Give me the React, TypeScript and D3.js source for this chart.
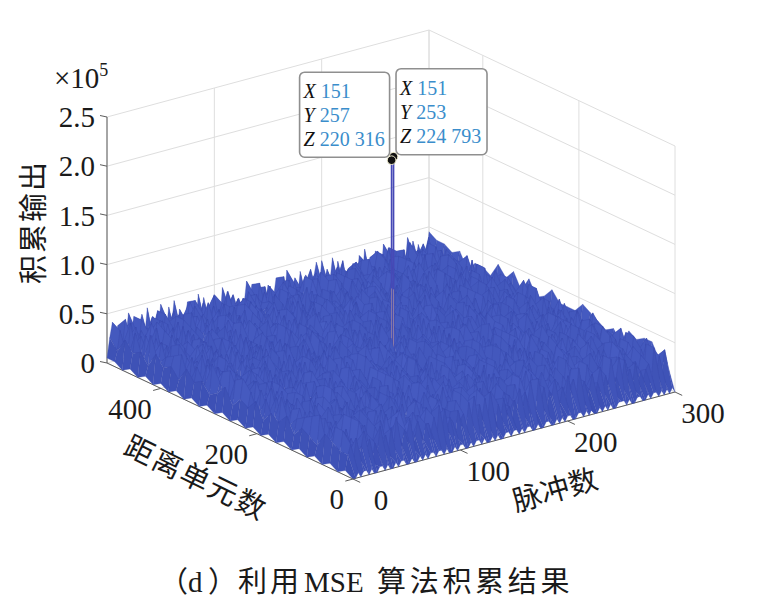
import React from "react";
import * as d3 from "d3";

// axis extents and ticks
const PULSE_MAX = 300;
const RANGE_MAX = 512;
const Z_MAX = 2.5e5;

const pulseTicks = [0, 100, 200, 300];
const rangeTicks = [0, 200, 400];
const zTicks = [0, 0.5e5, 1e5, 1.5e5, 2e5, 2.5e5];
const zTickLabels = ["0", "0.5", "1.0", "1.5", "2.0", "2.5"];

// accumulated noise floor: one string per range row
// (every 16 cells), one digit per pulse column (every 2.5 pulses), digit x 5000
const PULSE_STEP = 2.5;
const RANGE_STEP = 16;
const LEVEL_UNIT = 5000;
const noiseRows = [
  "0 0101101001 1010010110 0100101011 0110100101 1001011010 0101001101 1010110010 0110010101 1001101010 0101010011 1010011001 0110101010",
  "1 4627358461 5384627395 3658247536 6472938465 2756384927 4839526374 5264837592 3947265843 6385729461 4725836492 5938462735 3562947385",
  "0 4873625948 6247385926 3795462837 5482736951 2648395746 4937528463 5726384952 3847296574 4627358461 5384627395 3658247536 6472938465",
  "1 5836274915 3728465392 6473829516 4958372648 3627495836 5749382615 4836275948 6293847562 3758462937 5684729346 4927365847 3586274958",
  "0 6374825936 4829573648 3956284735 5738462958 4682937564 3847529638 6529384756 4736958243 5384762958 3962847564 6483725936 4758392648",
  "1 3928475638 5647293857 4738562948 6295837465 3847265938 5728394657 4693825746 3857462938 6472938574 4385729646 5937462835 3748295637",
  "0 4857362947 6382947563 3749582648 5628374956 4973825647 3586274938 6847392568 4739562835 5382947658 3694827563 4758392647 6283749568",
  "1 5738294657 3849527364 6482937548 4395728463 5847362958 3628495736 4973826548 5384729637 3759284658 6427385946 4839562738 5692837465",
  "0 3684729568 5927384657 4738695842 6385742958 3948527634 5726394857 4839275648 3587462938 6294837562 4758392646 5384729658 3927485637",
  "1 6473928564 3857264938 5938472653 4627385948 3759482637 6483927548 4392857364 5847362958 3628495746 4973825648 6385729463 4729385746",
  "0 4928375648 6374825937 3849526748 5736284959 4682937546 3957284638 5483729654 6728394857 3849527368 5294837562 4637295848 3758462937",
  "1 5382947658 4739562834 6295837462 3847526938 5628394757 4973826548 3586274935 6438295746 4729385648 3958472635 5847362948 4683927558",
  "0 3749582637 5863927458 4728395647 6395748263 3857264938 5492837654 4638295748 3927485636 6483729558 4759382647 3682947558 5937462849",
  "1 6385729468 3749582647 5927384658 4683957264 3958472635 5374829657 4829573648 6293847565 3758462938 5483927645 4927365848 3648295737",
  "0 4739562838 6482937546 3857462937 5628394758 4973825649 3586274936 6348295746 4729385648 5937462835 3682947559 4758392646 6283749567",
  "1 5936284757 4638295748 6483927546 3749582638 5827364958 4392857463 3958472637 5683927458 4738295646 6294837563 3857462938 4729385647",
  "0 3857462938 5394827365 4729385648 6483957264 3628495737 5947382658 4683729546 3759284637 6384927558 4827365949 5638295746 3947285639",
  "1 6294837568 4758392647 3682947558 5937462834 4829573647 6385729465 3749582636 5483927648 4637295847 3958472638 6728394856 4385729647",
  "0 4683927546 3857264939 5728394656 4392857463 6483729558 3649582737 5927384658 4738295647 3586274938 6295837464 4827365948 5384729656",
  "1 3958472636 6384927557 4729385649 5638295746 3847526938 4973826547 6295837463 3682947558 5749382616 4385729648 6483927545 3857462939",
  "0 5483927648 3749582637 6295837462 4827365949 5937462835 3648295738 4738295647 6384927556 3958472637 5294837563 4683729548 3729485646",
  "1 4729385648 5682937465 3847264938 6483729557 4392857463 5958372648 3627495837 4836275948 6573829456 3749582638 5384729647 4927365849",
  "0 6385729465 4827365947 5394827364 3758462938 6294837566 4683927546 3958472638 5729384657 4638295749 3847526937 6482937548 5637295847",
  "1 3847526939 6483729558 4729385646 5827364958 3649582737 4973825648 6385729463 5483927647 3958472636 6294837562 4738295648 5382947659",
  "0 5729384657 3958472638 6384927556 4683729548 5294837563 3749582637 4827365948 6573829457 3682947558 5938472647 4392857464 6483927546",
  "1 4638295748 5847362957 3729485639 6295837466 4759382647 5384729658 3948527635 4683927549 6827394856 3586274939 5493827658 4738295647",
  "0 6483729556 4392857465 5827364958 3958472637 6384927558 4729385648 5638295746 3847526938 4973826549 6295837563 3749582638 5384729657",
  "1 3958472637 5729384656 4683927549 6573829458 3847526937 5294837564 4738295648 6385729466 3682947559 4827365948 5937462836 4392857465",
  "0 5384729658 6483927547 3749582638 4638295749 5958372646 3627495838 6294837564 4759382648 5827364957 3958472636 4683729549 6384927558",
  "1 4827365949 3958472638 6295837465 5483927648 4392857464 6738294657 3847526939 5638295748 4729385647 6483729556 3586274938 5749382647",
  "0 6294837566 4738295648 5384729657 3958472637 6573829458 4683927549 5827364958 3749582638 4638295746 5937462836 6384927557 4829573648",
  "1 3749582638 5638295746 4827365949 6483729557 3958472637 5729384656 4392857465 6295837464 5483927648 3847526938 4973826549 6573829458",
  "1 5827364958 4683927549 6384927558 3729485638 5294837564 4958372647 6483729557 3847526939 5749382646 4638295748 6295837563 3958472639",
];

// the two data tips on the target peak
const peakPoints = [
  { x: 151, y: 257, z: 220316 },
  { x: 151, y: 253, z: 224793 },
];

const SERIF = "'Liberation Serif', 'Times New Roman', serif";
const CJK = "'Noto Sans CJK SC', sans-serif";
const TICK_FONT = 29;

// oblique projection of the 3-D box onto the page
const origin: [number, number] = [353, 479];
const pulseVec: [number, number] = [322, -87];
const rangeVec: [number, number] = [-246, -116];
const xS = d3.scaleLinear().domain([0, PULSE_MAX]).range([0, 1]);
const yS = d3.scaleLinear().domain([0, RANGE_MAX]).range([0, 1]);
const zS = d3.scaleLinear().domain([0, Z_MAX]).range([0, 246]);

function proj(x: number, y: number, z: number): [number, number] {
  const a = xS(x);
  const b = yS(y);
  return [
    origin[0] + a * pulseVec[0] + b * rangeVec[0],
    origin[1] + a * pulseVec[1] + b * rangeVec[1] - zS(z),
  ];
}

// bigger = farther from the viewer
const depthOf = (x: number, y: number) => xS(x) * -pulseVec[1] + yS(y) * -rangeVec[1];

const fmt = d3
  .formatLocale({ decimal: ".", thousands: " ", grouping: [3], currency: ["", ""] })
  .format(",d");

const shade = d3.scaleLinear<string>().domain([0, 0.45e5]).range(["#394cb0", "#4a60c6"]).clamp(true);

export default function App() {
  const grid = noiseRows.map((r) =>
    r.replace(/\s/g, "").split("").map((c) => +c * LEVEL_UNIT)
  );
  const nCols = d3.max(grid, (r) => r.length) as number;
  const nRows = grid.length;
  const line = d3.line();

  type Item = { depth: number; el: React.ReactElement };
  const items: Item[] = [];

  for (let j = 0; j < nRows - 1; j++) {
    for (let i = 0; i < nCols - 1; i++) {
      const cs: [number, number][] = [
        [i, j],
        [i + 1, j],
        [i + 1, j + 1],
        [i, j + 1],
      ];
      if (cs.some(([a, b]) => grid[b][a] === undefined)) continue;
      const pts = cs.map(([a, b]) => proj(a * PULSE_STEP, b * RANGE_STEP, grid[b][a]));
      const zMean = d3.mean(cs, ([a, b]) => grid[b][a]) as number;
      items.push({
        depth: depthOf((i + 0.5) * PULSE_STEP, (j + 0.5) * RANGE_STEP),
        el: (
          <path
            key={`q${i}-${j}`}
            d={line(pts) + "Z"}
            fill={shade(zMean)}
            stroke="#3a4caf"
            strokeWidth={0.3}
          />
        ),
      });
    }
  }

  peakPoints.forEach((p, k) => {
    const b = proj(p.x, p.y, 0);
    const t = proj(p.x, p.y, p.z);
    const m = proj(p.x, p.y, 0.9e5);
    items.push({
      depth: depthOf(p.x, p.y),
      el: (
        <g key={`peak${k}`}>
          <line x1={b[0]} y1={b[1]} x2={t[0]} y2={t[1]} stroke="#4649b6" strokeWidth={1.7} />
          <line x1={b[0]} y1={b[1]} x2={m[0]} y2={m[1]} stroke="#b89c9c" strokeWidth={0.6} />
        </g>
      ),
    });
  });

  items.sort((a, b) => b.depth - a.depth);

  const gridColor = "#dedede";
  const axisColor = "#5c5c5c";
  const gl = (p: [number, number], q: [number, number], key: string, color = gridColor) => (
    <line key={key} x1={p[0]} y1={p[1]} x2={q[0]} y2={q[1]} stroke={color} strokeWidth={1} />
  );

  const gridLines: React.ReactElement[] = [];
  // back-left wall (range = max)
  pulseTicks.forEach((x) =>
    gridLines.push(gl(proj(x, RANGE_MAX, 0), proj(x, RANGE_MAX, Z_MAX), `bwv${x}`))
  );
  zTicks.forEach((z) =>
    gridLines.push(gl(proj(0, RANGE_MAX, z), proj(PULSE_MAX, RANGE_MAX, z), `bwh${z}`))
  );
  // back-right wall (pulse = max)
  [...rangeTicks, RANGE_MAX].forEach((y) =>
    gridLines.push(gl(proj(PULSE_MAX, y, 0), proj(PULSE_MAX, y, Z_MAX), `rwv${y}`))
  );
  zTicks.forEach((z) =>
    gridLines.push(gl(proj(PULSE_MAX, 0, z), proj(PULSE_MAX, RANGE_MAX, z), `rwh${z}`))
  );
  // floor
  pulseTicks.forEach((x) => gridLines.push(gl(proj(x, 0, 0), proj(x, RANGE_MAX, 0), `fx${x}`)));
  rangeTicks.forEach((y) => gridLines.push(gl(proj(0, y, 0), proj(PULSE_MAX, y, 0), `fy${y}`)));

  const tips = peakPoints.map((p) => proj(p.x, p.y, p.z));
  const boxes = [
    { x: tips[0][0] - 2 - 90, y: tips[0][1] - 3 - 85, w: 90, h: 85 },
    { x: tips[1][0] + 2.5, y: tips[1][1] - 2 - 86, w: 91, h: 86 },
  ];

  const zAxis0 = proj(0, RANGE_MAX, 0);
  const zAxis1 = proj(0, RANGE_MAX, Z_MAX);

  return (
    <svg
      width={765}
      height={616}
      style={{ position: "absolute", left: 0, top: 0, background: "#fff" }}
    >
      {gridLines}

      {/* axis lines */}
      {gl(zAxis0, zAxis1, "zaxis", axisColor)}
      {gl(proj(0, 0, 0), proj(0, RANGE_MAX, 0), "raxis", axisColor)}
      {gl(proj(0, 0, 0), proj(PULSE_MAX, 0, 0), "paxis", axisColor)}

      {/* surface, far to near */}
      {items.map((it) => it.el)}

      {/* z ticks */}
      {zTicks.map((z, k) => {
        const p = proj(0, RANGE_MAX, z);
        return (
          <g key={`zt${z}`}>
            <line x1={p[0]} y1={p[1]} x2={p[0] - 7} y2={p[1] - 1.5} stroke={axisColor} />
            <text
              x={p[0] - 12}
              y={p[1]}
              dy="0.35em"
              textAnchor="end"
              fontFamily={SERIF}
              fontSize={TICK_FONT}
              fill="#1a1a1a"
            >
              {zTickLabels[k]}
            </text>
          </g>
        );
      })}
      <text x={54} y={88} fontFamily={SERIF} fontSize={TICK_FONT} fill="#1a1a1a">
        ×10
        <tspan dy={-12} fontSize={18}>
          5
        </tspan>
      </text>

      {/* range ticks */}
      {rangeTicks.map((y) => {
        const p = proj(0, y, 0);
        return (
          <g key={`rt${y}`}>
            <line x1={p[0]} y1={p[1]} x2={p[0] - 7.7} y2={p[1] + 2.1} stroke={axisColor} />
            <text
              x={p[0] - 9}
              y={p[1] + 20}
              dy="0.35em"
              textAnchor="end"
              fontFamily={SERIF}
              fontSize={TICK_FONT}
              fill="#1a1a1a"
            >
              {y}
            </text>
          </g>
        );
      })}

      {/* pulse ticks */}
      {pulseTicks.map((x) => {
        const p = proj(x, 0, 0);
        return (
          <g key={`pt${x}`}>
            <line x1={p[0]} y1={p[1]} x2={p[0] + 7.2} y2={p[1] + 3.4} stroke={axisColor} />
            <text
              x={p[0] + 28}
              y={p[1] + 21}
              dy="0.35em"
              textAnchor="middle"
              fontFamily={SERIF}
              fontSize={TICK_FONT}
              fill="#1a1a1a"
            >
              {x}
            </text>
          </g>
        );
      })}

      {/* axis titles */}
      <text
        transform="translate(34,222) rotate(-90)"
        textAnchor="middle"
        dy="0.35em"
        fontFamily={CJK}
        fontSize={29}
        letterSpacing={2}
        fill="#1a1a1a"
      >
        积累输出
      </text>
      <text
        transform="translate(196,478) rotate(26)"
        textAnchor="middle"
        dy="0.35em"
        fontFamily={CJK}
        fontSize={29}
        letterSpacing={2}
        fill="#1a1a1a"
      >
        距离单元数
      </text>
      <text
        transform="translate(555,490) rotate(-16)"
        textAnchor="middle"
        dy="0.35em"
        fontFamily={CJK}
        fontSize={29}
        fill="#1a1a1a"
      >
        脉冲数
      </text>

      {/* data tip markers */}
      {tips
        .slice()
        .reverse()
        .map((t, k) => (
          <circle key={`m${k}`} cx={t[0]} cy={t[1]} r={4.3} fill="#111" stroke="#f3efcf" strokeWidth={1} />
        ))}

      {/* data tips */}
      {peakPoints.map((p, k) => {
        const b = boxes[k];
        const rows: [string, number][] = [
          ["X", p.x],
          ["Y", p.y],
          ["Z", p.z],
        ];
        return (
          <g key={`tip${k}`}>
            <rect
              x={b.x}
              y={b.y}
              width={b.w}
              height={b.h}
              rx={5}
              fill="#fff"
              stroke="#8f8f8f"
              strokeWidth={1.6}
            />
            {rows.map(([lab, v], r) => (
              <text key={lab} x={b.x + 4} y={b.y + 26 + r * 24} fontFamily={SERIF} fontSize={20}>
                <tspan fontStyle="italic" fill="#111">
                  {lab}
                </tspan>
                <tspan dx={5} fill="#3a8dcb">
                  {fmt(v)}
                </tspan>
              </text>
            ))}
          </g>
        );
      })}

      {/* caption */}
      <text y={592} fill="#1a1a1a" fontSize={29}>
        <tspan x={159} fontFamily={CJK}>
          （
        </tspan>
        <tspan x={188} fontFamily={SERIF}>
          d
        </tspan>
        <tspan x={208} fontFamily={CJK}>
          ）
        </tspan>
        <tspan x={238} fontFamily={CJK} letterSpacing={3}>
          利用
        </tspan>
        <tspan x={304} fontFamily={SERIF}>
          MSE
        </tspan>
        <tspan x={377} fontFamily={CJK} letterSpacing={3.7}>
          算法积累结果
        </tspan>
      </text>
    </svg>
  );
}
